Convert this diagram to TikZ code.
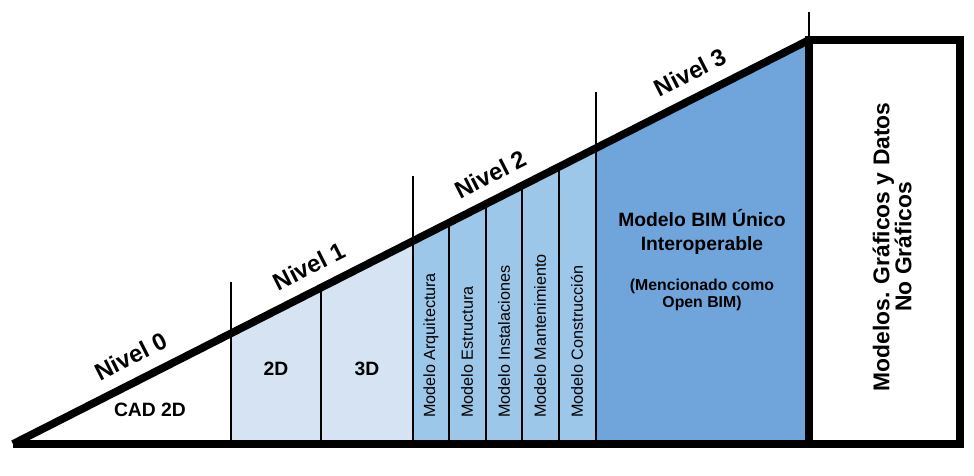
\documentclass[tikz,border=0pt]{standalone}
\usepackage{fontspec}
\setmainfont{Liberation Sans}
\usetikzlibrary{positioning}
\definecolor{nivelUno}{HTML}{D5E3F3}
\definecolor{nivelDos}{HTML}{9DC7E8}
\definecolor{nivelTres}{HTML}{70A5DB}

\begin{document}
\begin{tikzpicture}[
    x=0.02cm, y=-0.02cm,
    gruesa/.style={line width=4.4pt},
    fina/.style={line width=1.2pt},
    nivel/.style={font=\fontsize{13.6}{15}\selectfont\bfseries, sloped, above=3.5pt},
    etiq/.style={font=\fontsize{11}{13.6}\selectfont\bfseries, align=center},
    nota/.style={font=\fontsize{9}{10}\selectfont\bfseries, align=center},
    modelo/.style={font=\fontsize{9.2}{10}\selectfont, rotate=90, anchor=west, inner sep=0pt},
    lateral/.style={font=\fontsize{13}{12.5}\selectfont\bfseries, align=center, rotate=90},
  ]
  \useasboundingbox (0,0) rectangle (974,476);
  \coordinate (origen) at (13,444);
  \coordinate (cima) at (809,40);
  \coordinate (fin) at (960,444);

  \begin{scope}
    \clip (origen) -- (cima) -- (cima |- origen) -- cycle;
    \fill[nivelUno] (231,0) rectangle (413,444);
    \fill[nivelDos] (413,0) rectangle (596,444);
    \fill[nivelTres] (596,0) rectangle (809,444);
    \draw[fina] (321,0) -- (321,444);
    \draw[fina] (449,0) -- (449,444);
    \draw[fina] (486,0) -- (486,444);
    \draw[fina] (522,0) -- (522,444);
    \draw[fina] (559,0) -- (559,444);
  \end{scope}

  \draw[fina] (231,282) -- (231,444);
  \draw[fina] (413,176) -- (413,444);
  \draw[fina] (596,92) -- (596,444);
  \draw[fina] (809,12) -- (cima);

  \draw[gruesa] (origen) -- (cima)
    node[nivel, pos=0.162] (n0) {Nivel 0}
    node[nivel, pos=0.386] (n1) {Nivel 1}
    node[nivel, pos=0.614] (n2) {Nivel 2}
    node[nivel, pos=0.865] (n3) {Nivel 3};
  \draw[gruesa] (origen) -- (fin);
  \draw[gruesa] (cima) rectangle (fin);

  \node[etiq] (cad) at (150,410) {CAD 2D};
  \node[etiq] (dosd) at (276,369) {2D};
  \node[etiq] (tresd) at (367,369) {3D};

  \node[modelo] (arq) at (431,418) {Modelo Arquitectura};
  \node[modelo] (est) at (467,418) {Modelo Estructura};
  \node[modelo] (ins) at (504,418) {Modelo Instalaciones};
  \node[modelo] (man) at (540,418) {Modelo Mantenimiento};
  \node[modelo] (con) at (577,418) {Modelo Construcción};

  \node[etiq] (bim) at (702,232) {Modelo BIM Único\\Interoperable};
  \node[nota] (open) at (702,295) {(Mencionado como\\Open BIM)};

  \node[lateral] (datos) at (892,247) {Modelos. Gráficos y Datos\\No Gráficos};
\end{tikzpicture}
\end{document}
